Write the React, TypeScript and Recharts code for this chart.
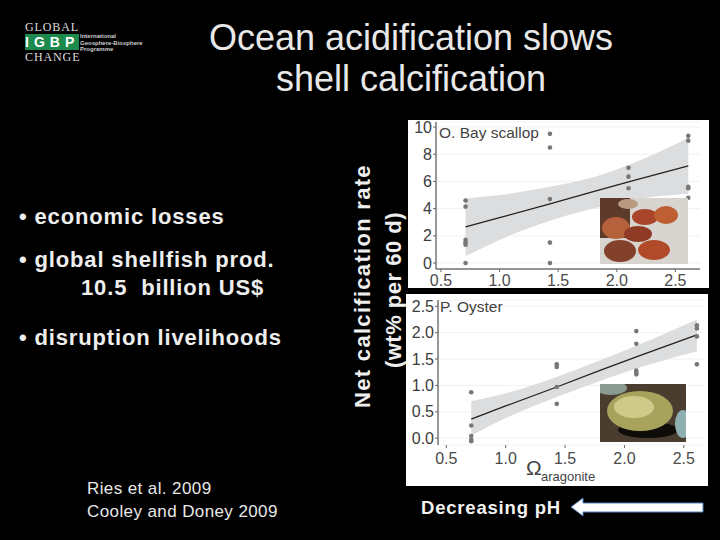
import { ComposedChart, Area, Line, Scatter, XAxis, YAxis, CartesianGrid } from 'recharts';

const xTicks = [0.5, 1.0, 1.5, 2.0, 2.5];

// O. Bay scallop
const scallopX = [0.71, 1.0, 1.43, 1.8, 2.1, 2.61];
const scallopFit = [2.65, 3.33, 4.35, 5.25, 5.96, 7.15];
const scallopLow = [0.5, 1.7, 3.1, 4.0, 4.6, 5.1];
const scallopHigh = [4.75, 5.0, 5.6, 6.3, 7.2, 9.2];
const scallopPointsX = [0.71, 0.71, 0.71, 0.71, 0.71, 0.71, 1.43, 1.43, 1.43, 1.43, 1.43, 2.1, 2.1, 2.1, 2.61, 2.61, 2.61, 2.61, 2.61];
const scallopPointsY = [4.6, 4.15, 1.7, 1.5, 1.35, 0, 9.5, 8.5, 4.7, 1.5, 0, 7.0, 6.35, 5.5, 9.35, 9.0, 5.6, 5.5, 4.8];
const scallopTicks = [0, 2, 4, 6, 8, 10];

// P. Oyster
const oysterX = [0.71, 1.0, 1.43, 1.8, 2.1, 2.61];
const oysterFit = [0.36, 0.61, 0.97, 1.29, 1.54, 1.96];
const oysterLow = [0.05, 0.38, 0.78, 1.09, 1.32, 1.65];
const oysterHigh = [0.7, 0.85, 1.16, 1.48, 1.75, 2.25];
const oysterPointsX = [0.71, 0.71, 0.71, 0.71, 0.71, 1.43, 1.43, 1.43, 1.43, 2.1, 2.1, 2.1, 2.1, 2.1, 2.61, 2.61, 2.61, 2.61];
const oysterPointsY = [0.87, 0.24, 0.04, -0.03, -0.06, 1.4, 1.35, 0.97, 0.65, 2.03, 1.79, 1.28, 1.24, 1.21, 2.14, 2.08, 1.93, 1.4];
const oysterTicks = [0, 0.5, 1.0, 1.5, 2.0, 2.5];

const bullets = ['• economic losses', '• global shellfish prod.', '• disruption livelihoods'];

const sans = '"Liberation Sans", Arial, sans-serif';
const bulletStyle = { fontSize: 22, fontWeight: 700, color: '#eee', letterSpacing: 0.85 };
const refStyle = { fontSize: 17, color: '#e8e8e8', letterSpacing: 0.4 };
const logoStyle = { position: 'absolute', left: 25, fontFamily: '"Liberation Serif", serif', fontSize: 12, lineHeight: '12px', color: '#ddd', letterSpacing: 0.9 } as const;

function dot(p: any) {
  return <circle cx={p.cx} cy={p.cy} r={2.3} fill="#777" />;
}

function Panel(props: any) {
  const { x, fit, low, high, px, py, yTicks, xDomain, yDomain, width, height, margin, yWidth, xLine, xHeight, xTickGap } = props;
  const rows = x.map((v: number, i: number) => ({ x: v, fit: fit[i], band: [low[i], high[i]] }));
  const points = px.map((v: number, i: number) => ({ x: v, y: py[i] }));
  return (
    <ComposedChart width={width} height={height} data={rows} margin={margin} style={{ background: '#fff' }}>
      <CartesianGrid vertical={false} stroke="#f1f1f1" />
      <XAxis
        type="number"
        dataKey="x"
        domain={xDomain}
        ticks={xTicks}
        tickFormatter={(v: number) => v.toFixed(1)}
        height={xHeight}
        axisLine={xLine ? { stroke: '#333' } : false}
        tickLine={{ stroke: '#666' }}
        tickSize={3}
        tickMargin={xTickGap}
        tick={{ fontSize: 16, fill: '#4a4a4a', fontFamily: sans }}
      />
      <YAxis
        type="number"
        domain={yDomain}
        ticks={yTicks}
        width={yWidth}
        interval={0}
        tickFormatter={props.yFormat}
        axisLine={{ stroke: '#333' }}
        tickLine={{ stroke: '#666' }}
        tickSize={3}
        tickMargin={1}
        tick={{ fontSize: 16, fill: '#3c3c3c', fontFamily: sans }}
      />
      <Area dataKey="band" type="monotone" stroke="none" fill="#dcddde" fillOpacity={1} isAnimationActive={false} />
      <Line dataKey="fit" type="linear" stroke="#222" strokeWidth={1.3} dot={false} isAnimationActive={false} />
      <Scatter data={points} dataKey="y" shape={dot} isAnimationActive={false} />
    </ComposedChart>
  );
}

function Box({ left, top, children }: any) {
  return <div style={{ position: 'absolute', left, top, whiteSpace: 'pre', lineHeight: 1 }}>{children}</div>;
}

function ScallopPhoto() {
  return (
    <svg width={88} height={66} style={{ position: 'absolute', left: 600, top: 198 }}>
      <rect width={88} height={66} fill="#d8d4cf" />
      <rect width={30} height={40} fill="#5e3a2c" />
      <ellipse cx={16} cy={30} rx={14} ry={11} fill="#b5623c" />
      <ellipse cx={45} cy={19} rx={13} ry={8} fill="#a8452a" />
      <ellipse cx={66} cy={17} rx={12} ry={9} fill="#bd5f33" />
      <ellipse cx={38} cy={36} rx={14} ry={8} fill="#8f3a24" />
      <ellipse cx={20} cy={53} rx={16} ry={11} fill="#83402a" />
      <ellipse cx={54} cy={52} rx={16} ry={10} fill="#b04a28" />
      <ellipse cx={28} cy={6} rx={10} ry={5} fill="#b89a80" />
    </svg>
  );
}

function OysterPhoto() {
  return (
    <svg width={86} height={58} style={{ position: 'absolute', left: 600, top: 384 }}>
      <rect width={86} height={58} fill="#4a3d30" />
      <ellipse cx={11} cy={4} rx={16} ry={7} fill="#8a9a90" />
      <ellipse cx={48} cy={46} rx={30} ry={8} fill="#0f0d0a" />
      <ellipse cx={40} cy={27} rx={33} ry={20} fill="#a8a35c" />
      <ellipse cx={34} cy={23} rx={20} ry={11} fill="#cfc98a" />
      <ellipse cx={83} cy={40} rx={8} ry={14} fill="#8fb0b0" />
    </svg>
  );
}

export default function App() {
  return (
    <div style={{ position: 'absolute', left: 0, top: 0, width: 720, height: 540, background: '#000', overflow: 'hidden', color: '#fff', fontFamily: sans }}>
      {/* logo */}
      <div style={{ ...logoStyle, top: 21 }}>GLOBAL</div>
      <div style={{ position: 'absolute', left: 25, top: 34, width: 54, height: 16, background: '#1c8a4c', textAlign: 'center', fontSize: 14, fontWeight: 700, letterSpacing: 5, lineHeight: '16px' }}>IGBP</div>
      <div style={{ ...logoStyle, top: 51 }}>CHANGE</div>
      <div style={{ position: 'absolute', left: 80, top: 33, fontSize: 6, lineHeight: '6.5px', fontWeight: 700, color: '#ccc', whiteSpace: 'pre' }}>
        {'International\nGeosphere-Biosphere\nProgramme'}
      </div>

      {/* title */}
      <div style={{ position: 'absolute', left: 111, width: 600, top: 17, textAlign: 'center', fontSize: 36, lineHeight: '41px', color: '#e8e8e8' }}>
        Ocean acidification slows
        <br />
        shell calcification
      </div>

      {/* left text */}
      <Box left={19} top={206}><span style={bulletStyle}>{bullets[0]}</span></Box>
      <Box left={19} top={249}><span style={bulletStyle}>{bullets[1]}</span></Box>
      <Box left={81} top={277}><span style={bulletStyle}>10.5  billion US$</span></Box>
      <Box left={19} top={327}><span style={bulletStyle}>{bullets[2]}</span></Box>
      <Box left={87} top={480}><span style={refStyle}>Ries et al. 2009</span></Box>
      <Box left={87} top={503}><span style={refStyle}>Cooley and Doney 2009</span></Box>

      {/* y title */}
      <div style={{ position: 'absolute', left: 378, top: 286, width: 0, height: 0 }}>
        <div style={{ position: 'absolute', transform: 'translate(-50%,-50%) rotate(-90deg)', textAlign: 'center', whiteSpace: 'pre', fontSize: 22, lineHeight: '31px', fontWeight: 700, color: '#eee' }}>
          <div style={{ letterSpacing: 1.3 }}>Net calcification rate</div>
          <div style={{ letterSpacing: 0.5, transform: 'translateX(-4px)' }}>(wt% per 60 d)</div>
        </div>
      </div>

      {/* panels */}
      <div style={{ position: 'absolute', left: 408, top: 120 }}>
        <Panel
          x={scallopX} fit={scallopFit} low={scallopLow} high={scallopHigh}
          px={scallopPointsX} py={scallopPointsY} yTicks={scallopTicks}
          xDomain={[0.458, 2.71]} yDomain={[-0.44, 10.37]}
          width={301} height={168} margin={{ top: 2, right: 9, bottom: 0, left: 0 }}
          yWidth={28} xHeight={19} xLine xTickGap={3}
          yFormat={(v: number) => String(v)}
        />
        <Box left={31} top={5}><span style={{ fontSize: 15.5, color: '#444' }}>O. Bay scallop</span></Box>
      </div>
      <div style={{ position: 'absolute', left: 406, top: 294 }}>
        <Panel
          x={oysterX} fit={oysterFit} low={oysterLow} high={oysterHigh}
          px={oysterPointsX} py={oysterPointsY} yTicks={oysterTicks}
          xDomain={[0.43, 2.67]} yDomain={[-0.13, 2.62]}
          width={302} height={192} margin={{ top: 6, right: 4, bottom: 0, left: 0 }}
          yWidth={32} xHeight={41} xTickGap={5}
          yFormat={(v: number) => v.toFixed(1)}
        />
        <Box left={34} top={5}><span style={{ fontSize: 15.5, color: '#444' }}>P. Oyster</span></Box>
        <Box left={120} top={163}><span style={{ fontSize: 21, color: '#444' }}>Ω</span></Box>
        <Box left={135} top={174}><span style={{ fontSize: 13, color: '#444' }}>aragonite</span></Box>
      </div>

      <ScallopPhoto />
      <OysterPhoto />

      {/* ph arrow */}
      <Box left={421} top={499}><span style={{ fontSize: 18.5, fontWeight: 700, color: '#f2f2f2', letterSpacing: 0.8 }}>Decreasing pH</span></Box>
      <svg width={140} height={24} style={{ position: 'absolute', left: 568, top: 495 }}>
        <path d="M3 12 L15 3 L15 8 L135 8 L135 17 L15 17 L15 21 Z" fill="#fff" stroke="#4f81bd" strokeWidth={1} />
      </svg>
    </div>
  );
}
